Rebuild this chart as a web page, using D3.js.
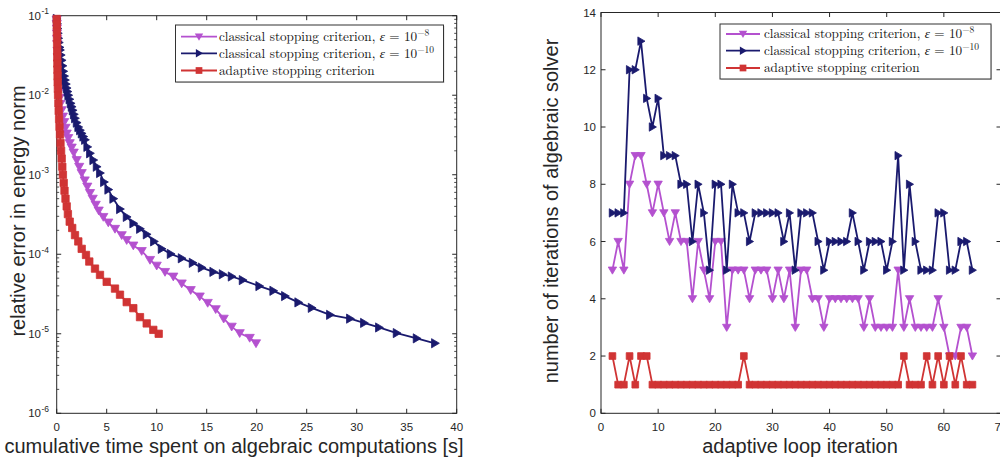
<!DOCTYPE html>
<html><head><meta charset="utf-8">
<script src="https://cdn.jsdelivr.net/npm/d3@7"></script>
<style>
html,body{margin:0;padding:0;background:#fff;}
svg{display:block;}
text{font-family:"Liberation Sans",Arial,sans-serif;fill:#262626;}
.leg text{font-family:"Latin Modern Roman","Liberation Serif","DejaVu Serif",serif;fill:#111;}
</style></head>
<body>
<svg id="c" width="1000" height="459"></svg>
<script>
// ---------------- data ----------------
const seriesNames = ["classical stopping criterion, ε = 10^−8","classical stopping criterion, ε = 10^−10","adaptive stopping criterion"];
const seriesColors = ["#b451cf","#1a1a6e","#d03434"];

// left panel: cumulative time [s] vs relative error
const timeEps8 = [0.0,0.01,0.02,0.03,0.045,0.06,0.08,0.1,0.12,0.15,0.18,0.21,0.25,0.3,0.38,0.5,0.62,0.75,0.88,1.0,1.15,1.3,1.5,1.7,2.0,2.25,2.5,2.8,3.06,3.33,3.6,3.9,4.2,4.66,5.16,5.83,6.5,7.0,7.66,8.5,9.33,10.0,10.83,11.66,12.5,13.4,14.3,15.1,15.9,16.7,17.5,18.3,19.3,19.93];
const errEps8  = [0.089,0.079,0.069,0.060,0.051,0.044,0.036,0.030,0.025,0.021,0.017,0.0138,0.0112,0.0093,0.0078,0.0065,0.0054,0.0046,0.0039,0.0033,0.0029,0.0025,0.0022,0.0019,0.00153,0.00126,0.00105,0.00085,0.00071,0.00059,0.0005,0.00042,0.000355,0.000295,0.000251,0.000209,0.000174,0.000151,0.000129,0.00011,8.5e-5,7.2e-5,6.0e-5,5.25e-5,4.3e-5,3.55e-5,2.95e-5,2.45e-5,2.04e-5,1.55e-5,1.23e-5,1.02e-5,8.9e-6,7.6e-6];

const timeEps10 = [0.0,0.04,0.08,0.12,0.16,0.22,0.29,0.33,0.41,0.5,0.58,0.66,0.75,0.83,0.92,1.0,1.08,1.16,1.28,1.4,1.5,1.6,1.72,1.83,2.0,2.16,2.33,2.5,2.66,2.83,3.06,3.33,3.66,4.0,4.33,4.73,5.16,5.66,6.33,7.0,7.66,8.33,9.0,9.73,10.5,11.4,12.5,13.6,14.5,15.66,16.6,17.5,18.6,20.26,21.66,22.83,24.16,25.5,27.33,29.33,30.73,32.23,34.0,36.0,37.83];
const errEps10  = [0.091,0.079,0.069,0.060,0.052,0.046,0.040,0.037,0.032,0.0275,0.0234,0.020,0.0174,0.0155,0.0138,0.0123,0.0111,0.0100,0.0089,0.0079,0.00716,0.00646,0.00575,0.00513,0.00452,0.00398,0.00363,0.00331,0.00302,0.00275,0.00224,0.00186,0.00153,0.00126,0.00105,0.00081,0.00065,0.0005,0.00037,0.000295,0.000245,0.000209,0.000178,0.000145,0.000117,0.000101,8.9e-5,7.8e-5,6.8e-5,6.0e-5,5.6e-5,5.25e-5,4.73e-5,3.98e-5,3.47e-5,2.98e-5,2.48e-5,2.12e-5,1.73e-5,1.55e-5,1.37e-5,1.2e-5,1.02e-5,8.75e-6,7.6e-6];

const timeAdapt = [0.0,0.01,0.02,0.03,0.04,0.05,0.06,0.07,0.08,0.09,0.1,0.12,0.14,0.17,0.2,0.24,0.28,0.33,0.38,0.44,0.5,0.56,0.62,0.7,0.78,0.88,1.0,1.12,1.3,1.55,1.83,2.16,2.5,2.93,3.26,3.83,4.33,5.0,5.83,6.33,7.0,7.66,8.33,9.0,9.66,10.2];
const errAdapt  = [0.091,0.076,0.063,0.052,0.044,0.036,0.030,0.025,0.021,0.0174,0.0145,0.012,0.010,0.0079,0.0063,0.005,0.004,0.0032,0.0025,0.002,0.0016,0.00126,0.001,0.00079,0.00063,0.0005,0.0004,0.00032,0.000257,0.000214,0.000174,0.000145,0.000117,9.8e-5,8.1e-5,6.6e-5,5.5e-5,4.5e-5,3.7e-5,3.1e-5,2.5e-5,2.1e-5,1.62e-5,1.35e-5,1.12e-5,1.0e-5];

// right panel: adaptive loop iteration vs number of solver iterations
const loopIter = [2,3,4,5,6,7,8,9,10,11,12,13,14,15,16,17,18,19,20,21,22,23,24,25,26,27,28,29,30,31,32,33,34,35,36,37,38,39,40,41,42,43,44,45,46,47,48,49,50,51,52,53,54,55,56,57,58,59,60,61,62,63,64,65];
const itEps8  = [5,6,5,8,9,9,8,7,8,7,6,7,6,6,4,6,5,4,6,6,3,5,5,5,4,5,5,5,4,5,4,5,3,5,5,4,4,3,4,4,4,4,4,4,3,4,3,3,3,3,5,3,4,3,3,3,3,4,3,2,2,3,3,2];
const itEps10 = [7,7,7,12,12,13,11,10,11,9,9,9,8,8,6,8,7,5,8,8,5,8,7,7,6,7,7,7,7,7,6,7,5,7,7,7,6,5,6,6,6,6,7,6,5,6,6,6,5,6,9,5,8,6,5,5,5,7,7,5,5,6,6,5];
const itAdapt = [2,1,1,2,1,2,2,1,1,1,1,1,1,1,1,1,1,1,1,1,1,1,1,2,1,1,1,1,1,1,1,1,1,1,1,1,1,1,1,1,1,1,1,1,1,1,1,1,1,1,1,2,1,1,1,2,1,2,1,2,1,2,1,1];

const leftXTicks = [0,5,10,15,20,25,30,35,40];
const leftYExp = [-6,-5,-4,-3,-2,-1];
const rightXTicks = [0,10,20,30,40,50,60,70];
const rightYTicks = [0,2,4,6,8,10,12,14];

// ---------------- drawing ----------------
const svg = d3.select("#c");
const axisCol = "#262626";

function markerPath(kind, r){
  if(kind==="down") return `M${-r},${-r*0.75}L${r},${-r*0.75}L0,${r*0.95}Z`;
  if(kind==="right") return `M${-r*0.75},${-r}L${-r*0.75},${r}L${r*0.95},0Z`;
  return `M${-r*0.8},${-r*0.8}H${r*0.8}V${r*0.8}H${-r*0.8}Z`;
}
const kinds = ["down","right","square"];

function drawSeries(g, xs, ys, x, y, color, kind, r, lw){
  const pts = xs.map((d,i)=>[x(d), y(ys[i])]);
  g.append("path").attr("d", d3.line()(pts)).attr("fill","none")
    .attr("stroke",color).attr("stroke-width",lw).attr("stroke-linejoin","round");
  g.selectAll(null).data(pts).enter().append("path")
    .attr("transform",d=>`translate(${d[0]},${d[1]})`)
    .attr("d",markerPath(kind,r)).attr("fill",color).attr("stroke",color).attr("stroke-width",0.8);
}

function legend(g, x0, y0, w, h, rowY, textX, sampleX0, sampleX1){
  g.append("rect").attr("x",x0+1).attr("y",y0+1).attr("width",w).attr("height",h).attr("fill","#d8d8d8");
  g.append("rect").attr("x",x0).attr("y",y0).attr("width",w).attr("height",h).attr("fill","#fff").attr("stroke","#333").attr("stroke-width",1);
  seriesNames.forEach((name,i)=>{
    const yy = y0 + rowY[i];
    g.append("line").attr("x1",sampleX0).attr("x2",sampleX1).attr("y1",yy).attr("y2",yy)
      .attr("stroke",seriesColors[i]).attr("stroke-width",1.8);
    g.append("path").attr("transform",`translate(${(sampleX0+sampleX1)/2},${yy})`)
      .attr("d",markerPath(kinds[i],4.2)).attr("fill",seriesColors[i]);
    const t = g.append("text").attr("x",textX).attr("y",yy+4.3).attr("font-size",13.2);
    const parts = name.split("^");
    if(parts.length===2){
      const pre = parts[0].split("ε");
      t.append("tspan").text(pre[0]);
      t.append("tspan").attr("font-style","italic").text("ε");
      t.append("tspan").text(pre[1]);
      t.append("tspan").attr("dy",-5).attr("font-size",9.5).text(parts[1]);
    } else t.text(name);
  });
}

// ===== left panel =====
{
  const x = d3.scaleLinear().domain([0,40]).range([56.7,456.7]);
  const y = d3.scaleLog().domain([1e-6,1e-1]).range([413.3,15.7]);
  const g = svg.append("g").attr("class","leftp");
  const tl = 4.5;
  leftXTicks.forEach(v=>{
    g.append("line").attr("x1",x(v)).attr("x2",x(v)).attr("y1",413.3).attr("y2",413.3-tl).attr("stroke",axisCol);
    g.append("line").attr("x1",x(v)).attr("x2",x(v)).attr("y1",15.7).attr("y2",15.7+tl).attr("stroke",axisCol);
    g.append("text").attr("x",x(v)).attr("y",430.5).attr("text-anchor","middle").attr("font-size",11.5).text(v);
  });
  leftYExp.forEach(e=>{
    const v = Math.pow(10,e);
    g.append("line").attr("x1",56.7).attr("x2",56.7+tl).attr("y1",y(v)).attr("y2",y(v)).attr("stroke",axisCol);
    g.append("line").attr("x1",456.7).attr("x2",456.7-tl).attr("y1",y(v)).attr("y2",y(v)).attr("stroke",axisCol);
    g.append("text").attr("x",41).attr("y",y(v)+4).attr("text-anchor","end").attr("font-size",11.5).text("10");
    g.append("text").attr("x",41.5).attr("y",y(v)-1.5).attr("font-size",8.5).text("-"+(-e));
    if(e<-1){
      for(let m=2;m<=9;m++){
        const vv = m*v;
        g.append("line").attr("x1",56.7).attr("x2",56.7+2.5).attr("y1",y(vv)).attr("y2",y(vv)).attr("stroke",axisCol).attr("stroke-width",0.8);
        g.append("line").attr("x1",456.7).attr("x2",456.7-2.5).attr("y1",y(vv)).attr("y2",y(vv)).attr("stroke",axisCol).attr("stroke-width",0.8);
      }
    }
  });
  g.append("rect").attr("x",56.7).attr("y",15.7).attr("width",400).attr("height",397.6)
    .attr("fill","none").attr("stroke",axisCol).attr("stroke-width",1);

  const dg = g.append("g");
  drawSeries(dg, timeEps8, errEps8, x, y, seriesColors[0], "down", 4.6, 1.8);
  drawSeries(dg, timeEps10, errEps10, x, y, seriesColors[1], "right", 4.6, 1.8);
  drawSeries(dg, timeAdapt, errAdapt, x, y, seriesColors[2], "square", 4.6, 1.8);

  g.append("text").attr("x",234).attr("y",453).attr("text-anchor","middle").attr("font-size",20).text("cumulative time spent on algebraic computations [s]");
  g.append("text").attr("transform","translate(25,211) rotate(-90)").attr("text-anchor","middle").attr("font-size",20).text("relative error in energy norm");

  legend(g.append("g").attr("class","leg"), 175.5, 25, 268, 57, [11.7,28.3,45.5], 219, 181, 217);
}

// ===== right panel =====
{
  const x = d3.scaleLinear().domain([0,70]).range([601,1001]);
  const y = d3.scaleLinear().domain([0,14]).range([413.3,12.5]);
  const g = svg.append("g").attr("class","rightp");
  const tl = 4.5;
  rightXTicks.forEach(v=>{
    g.append("line").attr("x1",x(v)).attr("x2",x(v)).attr("y1",413.3).attr("y2",413.3-tl).attr("stroke",axisCol);
    g.append("line").attr("x1",x(v)).attr("x2",x(v)).attr("y1",12.5).attr("y2",12.5+tl).attr("stroke",axisCol);
    g.append("text").attr("x",x(v)).attr("y",431).attr("text-anchor","middle").attr("font-size",11.5).text(v);
  });
  rightYTicks.forEach(v=>{
    g.append("line").attr("x1",601).attr("x2",601+tl).attr("y1",y(v)).attr("y2",y(v)).attr("stroke",axisCol);
    g.append("line").attr("x1",1001).attr("x2",1001-tl).attr("y1",y(v)).attr("y2",y(v)).attr("stroke",axisCol);
    g.append("text").attr("x",596).attr("y",y(v)+4).attr("text-anchor","end").attr("font-size",11.5).text(v);
  });
  g.append("rect").attr("x",601).attr("y",12.5).attr("width",400).attr("height",400.8)
    .attr("fill","none").attr("stroke",axisCol).attr("stroke-width",1);

  const dg = g.append("g");
  drawSeries(dg, loopIter, itEps8, x, y, seriesColors[0], "down", 4.2, 1.8);
  drawSeries(dg, loopIter, itEps10, x, y, seriesColors[1], "right", 4.2, 1.8);
  drawSeries(dg, loopIter, itAdapt, x, y, seriesColors[2], "square", 4.2, 1.8);

  g.append("text").attr("x",800).attr("y",453).attr("text-anchor","middle").attr("font-size",20).text("adaptive loop iteration");
  g.append("text").attr("transform","translate(558,211) rotate(-90)").attr("text-anchor","middle").attr("font-size",20).text("number of iterations of algebraic solver");

  legend(g.append("g").attr("class","leg"), 720, 24, 271, 55, [10,26.7,44], 764, 726, 760);
}
</script>
</body></html>
